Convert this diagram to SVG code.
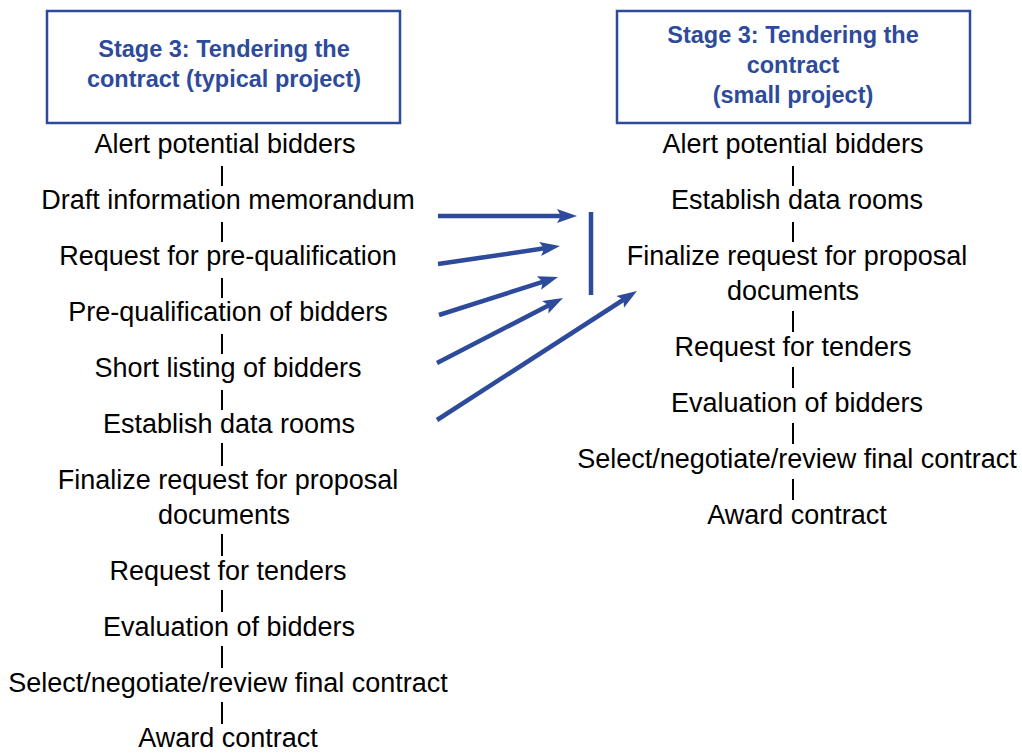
<svg xmlns="http://www.w3.org/2000/svg" width="1022" height="754" viewBox="0 0 1022 754">
<style>
.box{fill:#fff;stroke:#2E4B9B;stroke-width:2.5}
.title{font-family:"Liberation Sans",Arial,sans-serif;font-weight:bold;font-size:23.5px;fill:#2E4B9B;text-anchor:middle}
.item{font-family:"Liberation Sans",Arial,sans-serif;font-size:27px;fill:#000;text-anchor:middle}
.tick{stroke:#000;stroke-width:2}
.arr{stroke:#2E4B9B;stroke-width:4.5;fill:none}
</style>
<defs>
<marker id="ah" viewBox="-10 -8 24 16" refX="0" refY="0" markerWidth="24" markerHeight="16" markerUnits="userSpaceOnUse" orient="auto">
<path d="M-8,-7 L12,0 L-8,7 L-4,0 z" fill="#2E4B9B"/>
</marker>
</defs>
<rect width="1022" height="754" fill="#fff"/>
<g id="left-header">
<rect class="box" x="47" y="11" width="353" height="112"/>
<text class="title" x="224" y="57">Stage 3: Tendering the</text>
<text class="title" x="224" y="87">contract (typical project)</text>
</g>
<g id="right-header">
<rect class="box" x="617" y="11" width="353" height="112"/>
<text class="title" x="793" y="43">Stage 3: Tendering the</text>
<text class="title" x="793" y="73">contract</text>
<text class="title" x="793" y="103">(small project)</text>
</g>
<g id="left-steps">
<g id="l1"><text class="item" x="225" y="153">Alert potential bidders</text></g>
<g id="l2"><text class="item" x="228" y="209">Draft information memorandum</text></g>
<g id="l3"><text class="item" x="228" y="265">Request for pre-qualification</text></g>
<g id="l4"><text class="item" x="228" y="321">Pre-qualification of bidders</text></g>
<g id="l5"><text class="item" x="228" y="377">Short listing of bidders</text></g>
<g id="l6"><text class="item" x="229" y="433">Establish data rooms</text></g>
<g id="l7"><text class="item" x="228" y="489">Finalize request for proposal</text><text class="item" x="224" y="524">documents</text></g>
<g id="l8"><text class="item" x="228" y="580">Request for tenders</text></g>
<g id="l9"><text class="item" x="229" y="636">Evaluation of bidders</text></g>
<g id="l10"><text class="item" x="228" y="692">Select/negotiate/review final contract</text></g>
<g id="l11"><text class="item" x="228" y="747">Award contract</text></g>
</g>
<g id="right-steps">
<g id="r1"><text class="item" x="793" y="153">Alert potential bidders</text></g>
<g id="r2"><text class="item" x="797" y="209">Establish data rooms</text></g>
<g id="r3"><text class="item" x="797" y="265">Finalize request for proposal</text><text class="item" x="793" y="300">documents</text></g>
<g id="r4"><text class="item" x="793" y="356">Request for tenders</text></g>
<g id="r5"><text class="item" x="797" y="412">Evaluation of bidders</text></g>
<g id="r6"><text class="item" x="797" y="468">Select/negotiate/review final contract</text></g>
<g id="r7"><text class="item" x="797" y="524">Award contract</text></g>
</g>
<g id="connectors">
<line class="tick" x1="222" y1="166" x2="222" y2="186"/>
<line class="tick" x1="222" y1="222" x2="222" y2="242"/>
<line class="tick" x1="222" y1="278" x2="222" y2="298"/>
<line class="tick" x1="222" y1="334" x2="222" y2="354"/>
<line class="tick" x1="222" y1="390" x2="222" y2="410"/>
<line class="tick" x1="222" y1="443" x2="222" y2="466"/>
<line class="tick" x1="222" y1="534" x2="222" y2="556"/>
<line class="tick" x1="222" y1="590" x2="222" y2="612"/>
<line class="tick" x1="222" y1="646" x2="222" y2="668"/>
<line class="tick" x1="222" y1="702" x2="222" y2="724"/>
<line class="tick" x1="793" y1="166" x2="793" y2="186"/>
<line class="tick" x1="793" y1="222" x2="793" y2="242"/>
<line class="tick" x1="793" y1="311" x2="793" y2="332"/>
<line class="tick" x1="793" y1="367" x2="793" y2="388"/>
<line class="tick" x1="793" y1="423" x2="793" y2="444"/>
<line class="tick" x1="793" y1="479" x2="793" y2="500"/>
<line class="arr" x1="591" y1="212" x2="591" y2="295"/>
<line class="arr" x1="438" y1="216" x2="565" y2="216" marker-end="url(#ah)"/>
<line class="arr" x1="438" y1="264" x2="548.1" y2="247.8" marker-end="url(#ah)"/>
<line class="arr" x1="439" y1="315" x2="546.6" y2="280.6" marker-end="url(#ah)"/>
<line class="arr" x1="437" y1="363" x2="552.3" y2="303.5" marker-end="url(#ah)"/>
<line class="arr" x1="437" y1="420" x2="626.9" y2="297.5" marker-end="url(#ah)"/>
</g>
</svg>
